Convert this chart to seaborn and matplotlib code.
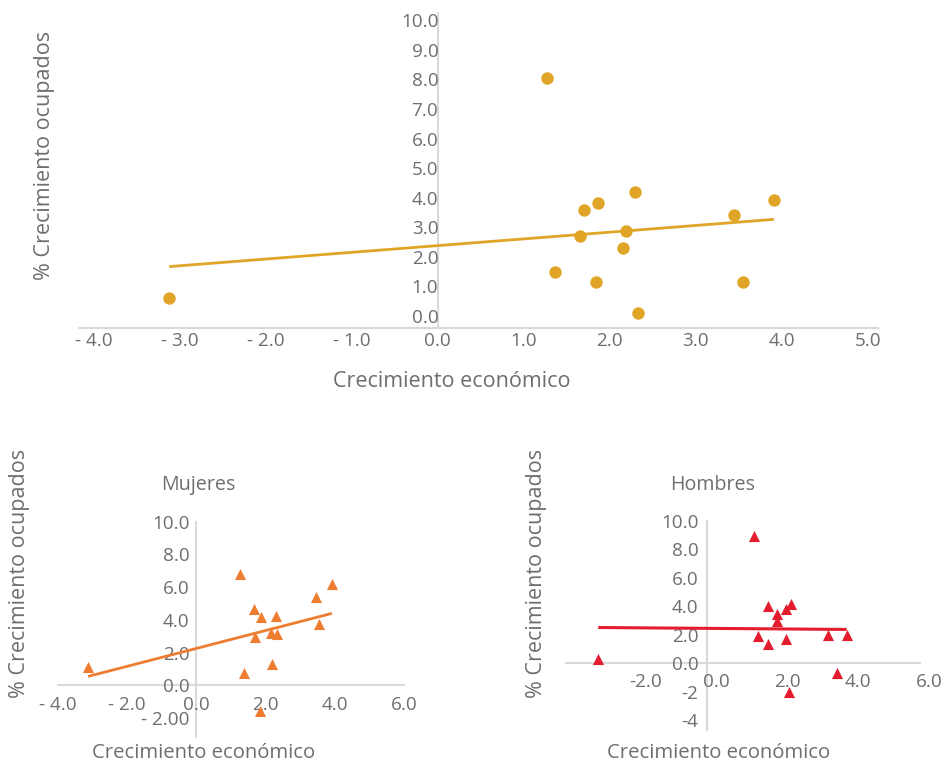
import matplotlib
matplotlib.use("Agg")
import matplotlib.pyplot as plt
import seaborn as sns
from matplotlib.transforms import ScaledTranslation

# ---------------- data ----------------
crecimiento_economico = [-3.12, 1.27, 1.37, 1.66, 1.70, 1.84, 1.87, 2.15, 2.19, 2.29, 2.33, 3.44, 3.55, 3.91]
ocupados_total = [0.60, 8.05, 1.47, 2.71, 3.60, 1.13, 3.82, 2.29, 2.87, 4.20, 0.10, 3.40, 1.13, 3.93]
ocupados_mujeres = [1.13, 6.79, 0.73, 4.67, 2.93, -1.57, 4.20, 3.17, 1.30, 4.24, 3.15, 5.37, 3.76, 6.18]

# x positions as read in the "Hombres" panel
crecimiento_hombres = [-3.08, 1.32, 1.44, 1.71, 1.71, 1.95, 1.95, 2.22, 2.22, 2.31, 2.36, 3.41, 3.65, 3.93]
ocupados_hombres = [0.26, 8.98, 1.88, 4.03, 1.33, 3.45, 2.98, 3.80, 1.70, -2.04, 4.15, 1.95, -0.68, 1.97]

top_xticks = [-4, -3, -2, -1, 0, 1, 2, 3, 4, 5]
top_xticklabels = ["- 4.0", "- 3.0", "- 2.0", "- 1.0", "0.0", "1.0", "2.0", "3.0", "4.0", "5.0"]
top_yticks = [0, 1, 2, 3, 4, 5, 6, 7, 8, 9, 10]
top_yticklabels = ["0.0", "1.0", "2.0", "3.0", "4.0", "5.0", "6.0", "7.0", "8.0", "9.0", "10.0"]

muj_xticks = [-4, -2, 0, 2, 4, 6]
muj_xticklabels = ["- 4.0", "- 2.0", "0.0", "2.0", "4.0", "6.0"]
muj_yticks = [-2, 0, 2, 4, 6, 8, 10]
muj_yticklabels = ["- 2.00", "0.0", "2.0", "4.0", "6.0", "8.0", "10.0"]

hom_xticks = [-2, 0, 2, 4, 6]
hom_xticklabels = ["-2.0", "0.0", "2.0", "4.0", "6.0"]
hom_yticks = [-4, -2, 0, 2, 4, 6, 8, 10]
hom_yticklabels = ["-4", "-2", "0.0", "2.0", "4.0", "6.0", "8.0", "10.0"]

xlabel_text = "Crecimiento económico"
ylabel_text = "% Crecimiento ocupados"
title_mujeres = "Mujeres"
title_hombres = "Hombres"

# ---------------- style ----------------
GOLD = "#E0A526"
ORANGE = "#EE7D31"
RED = "#E31D2E"
TEXT = "#6D6E71"
AXIS = "#D9D9D9"

sns.set_style("white")
plt.rcParams["font.family"] = ["Open Sans", "DejaVu Sans"]

W, H = 946, 763
fig = plt.figure(figsize=(W / 100, H / 100), dpi=100)


def px_rect(left, top, right, bottom):
    return [left / W, 1 - bottom / H, (right - left) / W, (bottom - top) / H]


def style(ax, xlim, ylim, xticks, xlabels, yticks, ylabels, bottom_at_zero, xpad, ypad):
    ax.set_xlim(*xlim)
    ax.set_ylim(*ylim)
    for s in ["top", "right"]:
        ax.spines[s].set_visible(False)
    ax.spines["left"].set_position(("data", 0))
    if bottom_at_zero:
        ax.spines["bottom"].set_position(("data", 0))
    for s in ["left", "bottom"]:
        ax.spines[s].set_color(AXIS)
        ax.spines[s].set_linewidth(1.5)
        ax.spines[s].set_zorder(0.5)
    ax.set_xticks(xticks)
    ax.set_xticklabels(xlabels)
    ax.set_yticks(yticks)
    ax.set_yticklabels(ylabels)
    ax.tick_params(axis="both", length=0, labelsize=13.6, labelcolor=TEXT)
    ax.tick_params(axis="x", pad=xpad)
    ax.tick_params(axis="y", pad=ypad)
    ax.grid(False)
    ax.patch.set_alpha(0)


def labels(ax, xl_pos, yl_pos, xsize=15.5, ysize=15.5):
    ax.set_xlabel(xlabel_text, fontsize=xsize, color=TEXT, va="center", ha="center")
    ax.xaxis.set_label_coords(*xl_pos)
    ax.set_ylabel(ylabel_text, fontsize=ysize, color=TEXT, va="center", ha="center")
    ax.yaxis.set_label_coords(*yl_pos)


# ---------------- top panel ----------------
ax1 = fig.add_axes(px_rect(79, 13, 878, 328))
sns.regplot(x=crecimiento_economico, y=ocupados_total, ax=ax1, ci=None, truncate=True,
            color=GOLD, marker="o",
            scatter_kws={"s": 80, "linewidths": 0, "alpha": 1, "zorder": 3, "clip_on": False},
            line_kws={"lw": 2, "solid_capstyle": "butt", "zorder": 2})
style(ax1, (-4.17, 5.12), (-0.41, 10.25), top_xticks, top_xticklabels,
      top_yticks, top_yticklabels, bottom_at_zero=False, xpad=3.2, ypad=-0.5)
labels(ax1, (0.467, -0.171), (-0.0426, 0.549))

# ---------------- Mujeres ----------------
ax2 = fig.add_axes(px_rect(57.7, 521.7, 404.3, 736.7))
sns.regplot(x=crecimiento_economico, y=ocupados_mujeres, ax=ax2, ci=None, truncate=True,
            color=ORANGE, marker="^",
            scatter_kws={"s": 64, "linewidths": 0, "alpha": 1, "zorder": 3, "clip_on": False},
            line_kws={"lw": 2, "solid_capstyle": "butt", "zorder": 2})
style(ax2, (-4, 6), (-3.14, 10.0), muj_xticks, muj_xticklabels,
      muj_yticks, muj_yticklabels, bottom_at_zero=True, xpad=7.5, ypad=5)
labels(ax2, (0.422, -0.076), (-0.109, 0.759), xsize=14.6)
ax2.text(0.405, 1.171, title_mujeres, transform=ax2.transAxes, ha="center", va="center",
         fontsize=14.2, color=TEXT)

# ---------------- Hombres ----------------
ax3 = fig.add_axes(px_rect(565.7, 521, 920, 730))
sns.regplot(x=crecimiento_hombres, y=ocupados_hombres, ax=ax3, ci=None, truncate=True,
            color=RED, marker="^",
            scatter_kws={"s": 64, "linewidths": 0, "alpha": 1, "zorder": 3, "clip_on": False},
            line_kws={"lw": 2.2, "solid_capstyle": "butt", "zorder": 2})
style(ax3, (-4, 6), (-4.7, 9.89), hom_xticks, hom_xticklabels,
      hom_yticks, hom_yticklabels, bottom_at_zero=True, xpad=7, ypad=6.5)
labels(ax3, (0.431, -0.110), (-0.082, 0.749), xsize=14.6)
ax3.text(0.416, 1.172, title_hombres, transform=ax3.transAxes, ha="center", va="center",
         fontsize=14.2, color=TEXT)
shift = ScaledTranslation(9 / 100, 0, fig.dpi_scale_trans)
for lab in ax3.get_xticklabels():
    lab.set_transform(lab.get_transform() + shift)

fig.savefig("out.png", dpi=100, facecolor="white")
